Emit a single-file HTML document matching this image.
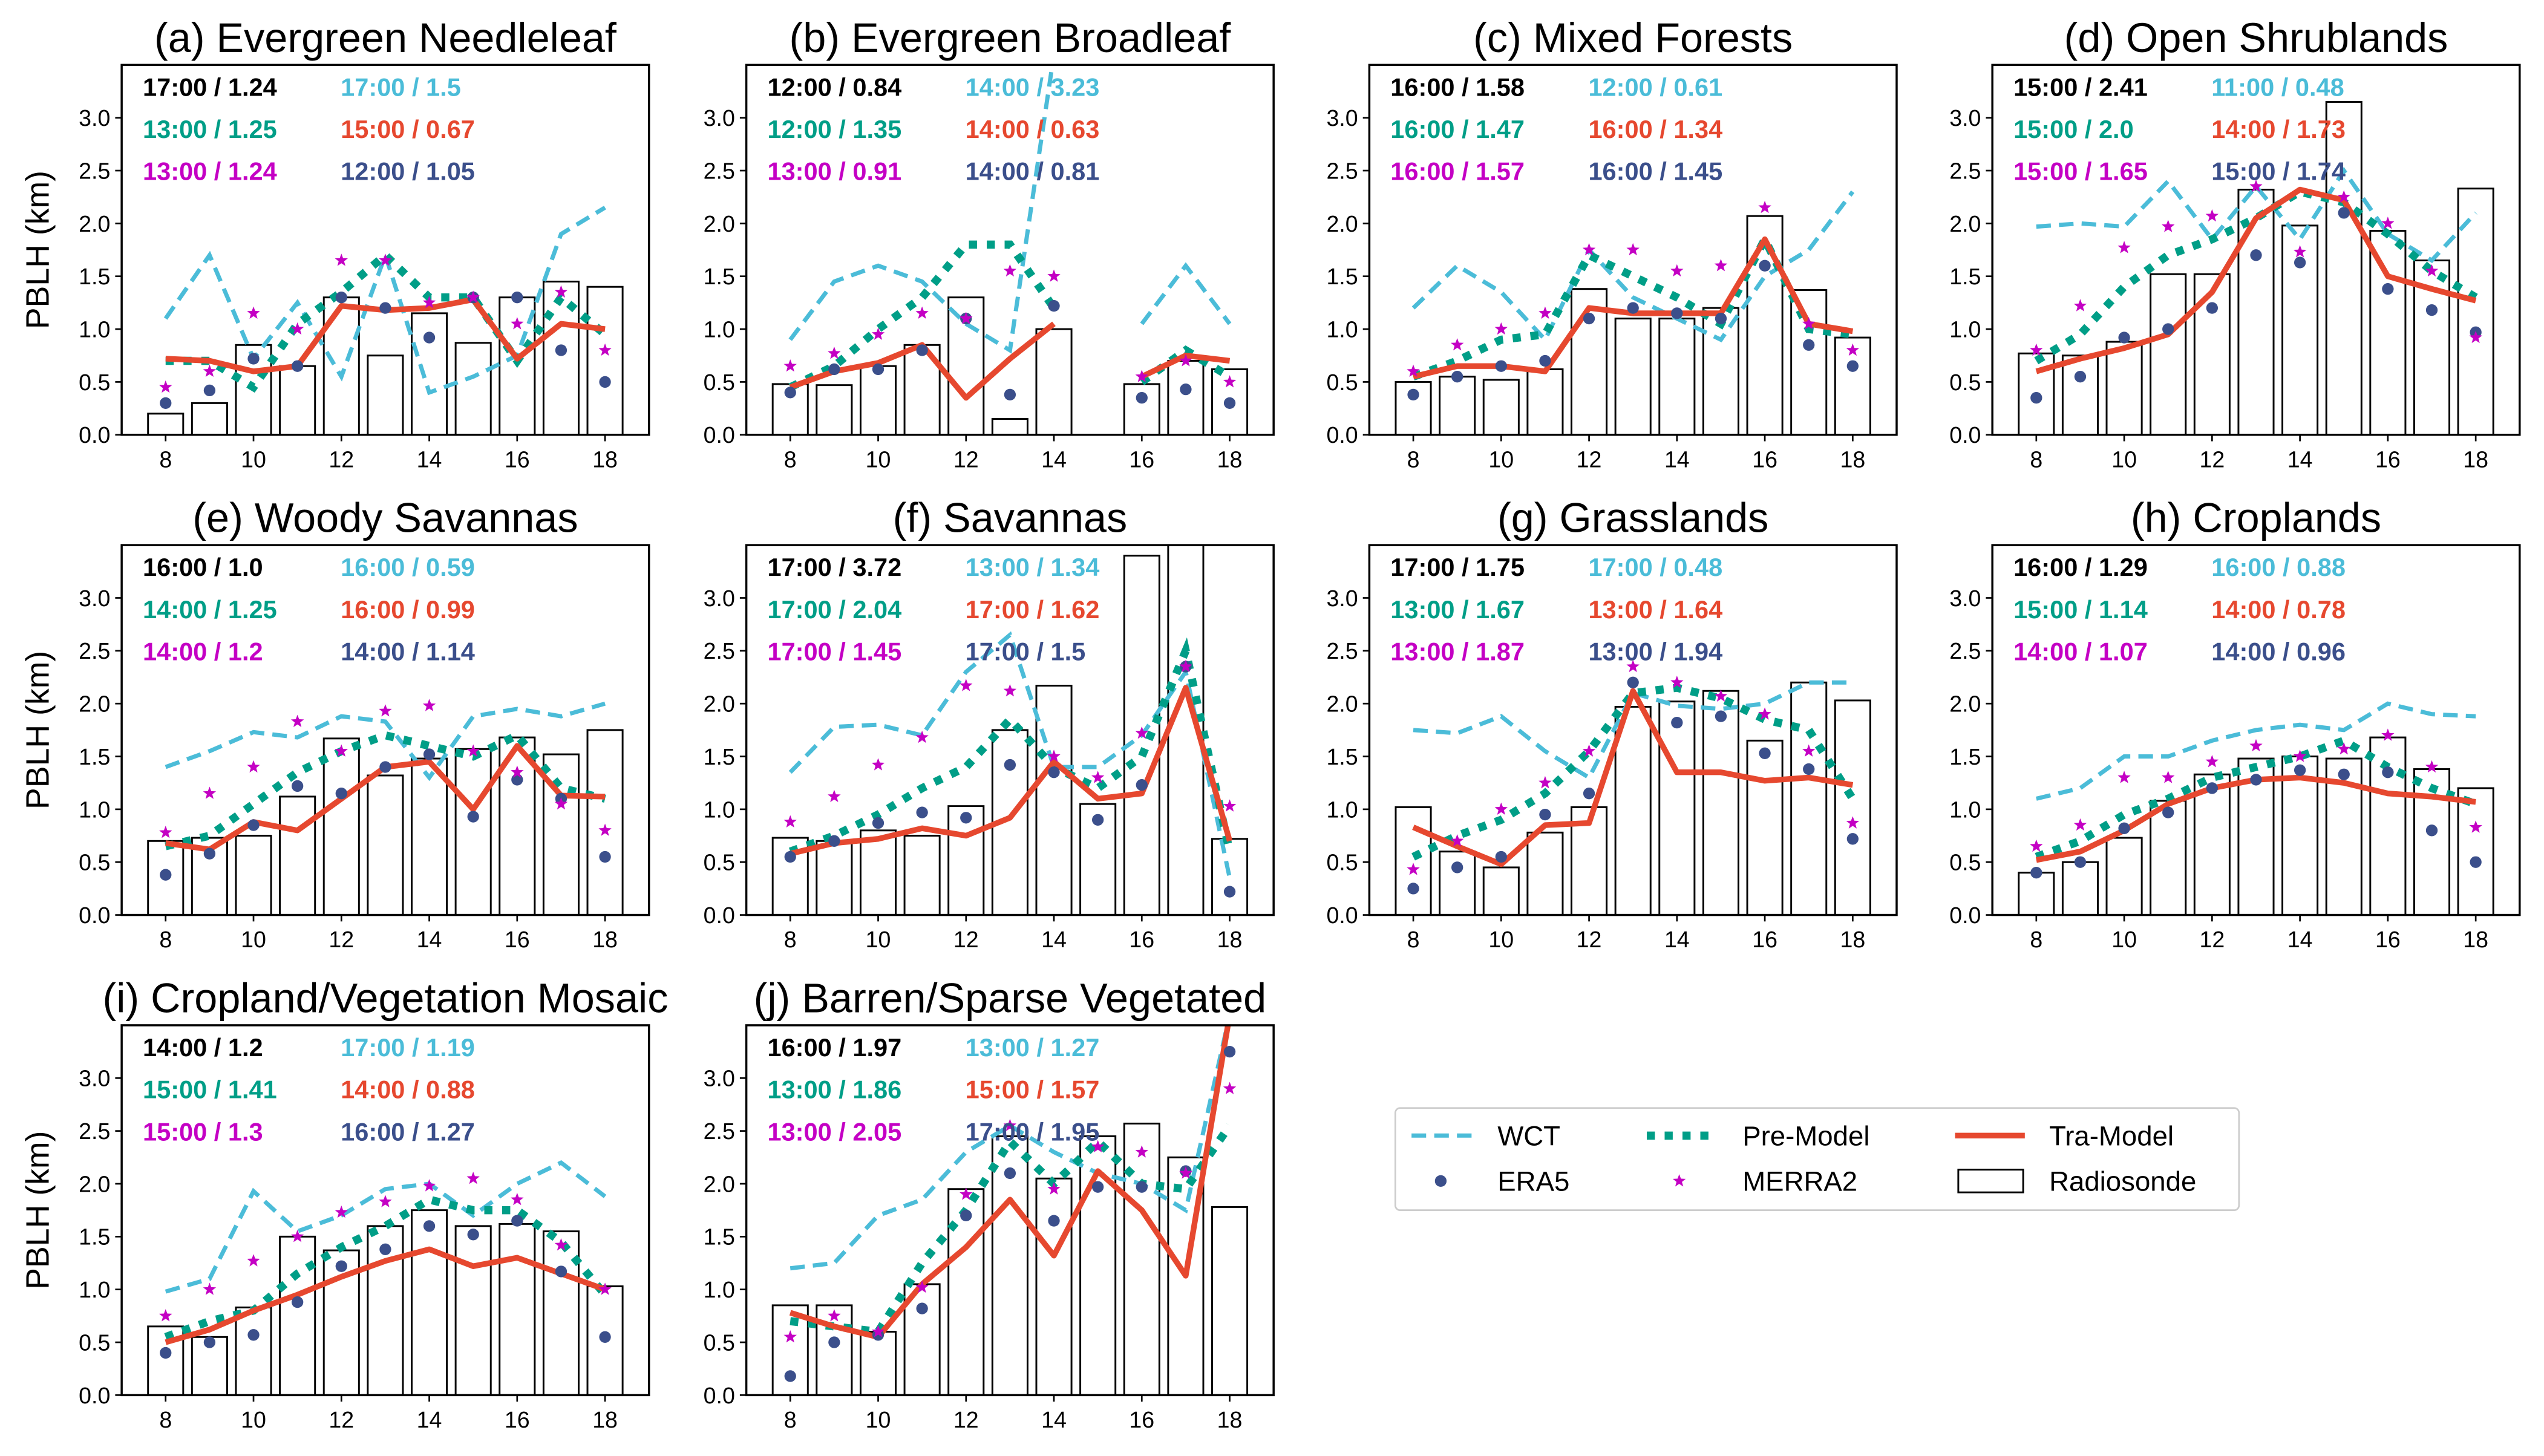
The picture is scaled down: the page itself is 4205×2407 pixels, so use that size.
<!DOCTYPE html>
<html><head><meta charset="utf-8"><style>
html,body{margin:0;padding:0;background:#fff;}
svg{display:block;font-family:"Liberation Sans",Arial,sans-serif;}
</style></head><body>
<svg id="chart" width="4205" height="2407" viewBox="0 0 1568 897.5" xmlns="http://www.w3.org/2000/svg"></svg>
<script>
const hours=[8,9,10,11,12,13,14,15,16,17,18];
const titles=["(a) Evergreen Needleleaf","(b) Evergreen Broadleaf","(c) Mixed Forests","(d) Open Shrublands","(e) Woody Savannas","(f) Savannas","(g) Grasslands","(h) Croplands","(i) Cropland/Vegetation Mosaic","(j) Barren/Sparse Vegetated"];
const N=null;
const wct=[
[1.1,1.7,0.72,1.25,0.55,1.7,0.4,0.55,0.75,1.9,2.15],
[0.9,1.45,1.6,1.45,1.05,0.8,3.6,N,1.05,1.6,1.05],
[1.2,1.6,1.35,0.9,1.75,1.3,1.1,0.9,1.5,1.75,2.3],
[1.97,2.0,1.97,2.4,1.85,2.35,1.85,2.5,1.9,1.65,2.1],
[1.4,1.55,1.73,1.68,1.88,1.83,1.3,1.88,1.95,1.88,2.0],
[1.35,1.78,1.8,1.7,2.3,2.65,1.4,1.4,1.7,2.3,0.35],
[1.75,1.72,1.88,1.55,1.3,2.1,1.98,1.95,2.0,2.2,2.2],
[1.1,1.2,1.5,1.5,1.65,1.75,1.8,1.75,2.0,1.9,1.88],
[0.98,1.1,1.93,1.55,1.7,1.95,2.0,1.7,2.0,2.2,1.88],
[1.2,1.25,1.7,1.85,2.3,2.55,2.3,2.1,2.0,1.75,3.6]];
const pre=[
[0.7,0.7,0.45,1.05,1.35,1.7,1.3,1.3,0.7,1.3,0.95],
[0.45,0.65,1.0,1.3,1.8,1.8,1.2,N,0.5,0.8,0.55],
[0.55,0.7,0.9,0.95,1.7,1.5,1.3,1.05,1.85,1.0,0.95],
[0.7,0.95,1.4,1.7,1.85,2.05,2.3,2.2,1.9,1.55,1.3],
[0.65,0.75,1.05,1.35,1.55,1.7,1.6,1.5,1.7,1.2,1.1],
[0.6,0.75,0.95,1.2,1.4,1.85,1.4,1.2,1.5,2.5,0.6],
[0.55,0.75,0.9,1.15,1.55,2.1,2.15,2.05,1.85,1.75,1.1],
[0.55,0.7,0.95,1.1,1.3,1.4,1.5,1.65,1.4,1.2,1.05],
[0.55,0.7,0.8,1.15,1.4,1.6,1.85,1.75,1.75,1.45,0.95],
[0.7,0.65,0.6,1.25,1.75,2.4,2.0,2.4,2.0,1.95,2.55]];
const tra=[
[0.72,0.7,0.6,0.65,1.22,1.18,1.2,1.28,0.72,1.05,1.0],
[0.45,0.6,0.68,0.85,0.35,0.72,1.05,N,0.55,0.75,0.7],
[0.55,0.65,0.65,0.6,1.2,1.15,1.15,1.15,1.85,1.05,0.98],
[0.6,0.72,0.82,0.95,1.35,2.05,2.32,2.22,1.5,1.38,1.27],
[0.68,0.62,0.88,0.8,1.1,1.4,1.45,1.0,1.6,1.13,1.12],
[0.58,0.68,0.72,0.82,0.75,0.92,1.45,1.1,1.15,2.15,0.7],
[0.83,0.65,0.48,0.85,0.87,2.12,1.35,1.35,1.27,1.3,1.23],
[0.52,0.6,0.8,1.05,1.2,1.28,1.3,1.25,1.15,1.12,1.07],
[0.5,0.62,0.8,0.95,1.12,1.27,1.38,1.22,1.3,1.15,1.0],
[0.78,0.65,0.55,1.05,1.4,1.85,1.32,2.12,1.75,1.13,3.6]];
const era5=[
[0.3,0.42,0.72,0.65,1.3,1.2,0.92,1.3,1.3,0.8,0.5],
[0.4,0.62,0.62,0.8,1.1,0.38,1.22,N,0.35,0.43,0.3],
[0.38,0.55,0.65,0.7,1.1,1.2,1.15,1.1,1.6,0.85,0.65],
[0.35,0.55,0.92,1.0,1.2,1.7,1.63,2.1,1.38,1.18,0.97],
[0.38,0.58,0.85,1.22,1.15,1.4,1.52,0.93,1.28,1.1,0.55],
[0.55,0.7,0.87,0.97,0.92,1.42,1.35,0.9,1.23,2.35,0.22],
[0.25,0.45,0.55,0.95,1.15,2.2,1.82,1.88,1.53,1.38,0.72],
[0.4,0.5,0.82,0.97,1.2,1.28,1.37,1.33,1.35,0.8,0.5],
[0.4,0.5,0.57,0.88,1.22,1.38,1.6,1.52,1.65,1.17,0.55],
[0.18,0.5,0.57,0.82,1.7,2.1,1.65,1.97,1.97,2.12,3.25]];
const merra2=[
[0.45,0.6,1.15,1.0,1.65,1.65,1.25,1.3,1.05,1.35,0.8],
[0.65,0.77,0.95,1.15,1.1,1.55,1.5,N,0.55,0.7,0.5],
[0.6,0.85,1.0,1.15,1.75,1.75,1.55,1.6,2.15,1.05,0.8],
[0.8,1.22,1.77,1.97,2.07,2.35,1.73,2.25,2.0,1.55,0.92],
[0.78,1.15,1.4,1.83,1.55,1.93,1.98,1.55,1.35,1.05,0.8],
[0.88,1.12,1.42,1.68,2.17,2.12,1.5,1.3,1.72,2.35,1.03],
[0.43,0.7,1.0,1.25,1.55,2.35,2.2,2.07,1.9,1.55,0.87],
[0.65,0.85,1.3,1.3,1.45,1.6,1.5,1.57,1.7,1.4,0.83],
[0.75,1.0,1.27,1.5,1.73,1.83,1.98,2.05,1.85,1.42,1.0],
[0.55,0.75,0.6,1.02,1.9,2.55,1.95,2.35,2.3,2.1,2.9]];
const radio=[
[0.2,0.3,0.85,0.65,1.3,0.75,1.15,0.87,1.3,1.45,1.4],
[0.48,0.47,0.65,0.85,1.3,0.15,1.0,N,0.48,0.7,0.62],
[0.5,0.55,0.52,0.62,1.38,1.1,1.1,1.2,2.07,1.37,0.92],
[0.77,0.75,0.88,1.52,1.52,2.32,1.98,3.15,1.93,1.65,2.33],
[0.7,0.73,0.75,1.12,1.67,1.32,1.48,1.57,1.68,1.52,1.75],
[0.73,0.7,0.8,0.75,1.03,1.75,2.17,1.05,3.4,3.6,0.72],
[1.02,0.6,0.45,0.78,1.02,1.97,2.02,2.12,1.65,2.2,2.03],
[0.4,0.5,0.73,1.08,1.33,1.48,1.5,1.48,1.68,1.38,1.2],
[0.65,0.55,0.83,1.5,1.37,1.6,1.75,1.6,1.62,1.55,1.03],
[0.85,0.85,0.6,1.05,1.95,2.45,2.05,2.45,2.57,2.25,1.78]];
const ann=[
["17:00 / 1.24","17:00 / 1.5","13:00 / 1.25","15:00 / 0.67","13:00 / 1.24","12:00 / 1.05"],
["12:00 / 0.84","14:00 / 3.23","12:00 / 1.35","14:00 / 0.63","13:00 / 0.91","14:00 / 0.81"],
["16:00 / 1.58","12:00 / 0.61","16:00 / 1.47","16:00 / 1.34","16:00 / 1.57","16:00 / 1.45"],
["15:00 / 2.41","11:00 / 0.48","15:00 / 2.0","14:00 / 1.73","15:00 / 1.65","15:00 / 1.74"],
["16:00 / 1.0","16:00 / 0.59","14:00 / 1.25","16:00 / 0.99","14:00 / 1.2","14:00 / 1.14"],
["17:00 / 3.72","13:00 / 1.34","17:00 / 2.04","17:00 / 1.62","17:00 / 1.45","17:00 / 1.5"],
["17:00 / 1.75","17:00 / 0.48","13:00 / 1.67","13:00 / 1.64","13:00 / 1.87","13:00 / 1.94"],
["16:00 / 1.29","16:00 / 0.88","15:00 / 1.14","14:00 / 0.78","14:00 / 1.07","14:00 / 0.96"],
["14:00 / 1.2","17:00 / 1.19","15:00 / 1.41","14:00 / 0.88","15:00 / 1.3","16:00 / 1.27"],
["16:00 / 1.97","13:00 / 1.27","13:00 / 1.86","15:00 / 1.57","13:00 / 2.05","17:00 / 1.95"]];
const yTicks=[0,0.5,1.0,1.5,2.0,2.5,3.0];
const xTicks=[8,10,12,14,16,18];
const C={wct:"#4bbcd8",pre:"#009e87",tra:"#e6482f",era:"#3b4f8b",mer:"#c400c4",blk:"#000"};
const annColors=[C.blk,C.wct,C.pre,C.tra,C.mer,C.era];
const svg=document.getElementById('chart');
const NS="http://www.w3.org/2000/svg";
function mk(tag,attrs,parent){const e=document.createElementNS(NS,tag);for(const k in attrs)e.setAttribute(k,attrs[k]);(parent||svg).appendChild(e);return e;}
const colX=[75,460,844,1228],rowTop=[40,336,632],W=325,H=228;
function starPts(cx,cy,r){let p=[];for(let i=0;i<10;i++){const a=-Math.PI/2+i*Math.PI/5;const rr=i%2?r*0.42:r;p.push((cx+rr*Math.cos(a)).toFixed(2)+","+(cy+rr*Math.sin(a)).toFixed(2));}return p.join(" ");}
function linePath(vals,sx,sy){let d="",pen=false;vals.forEach((v,i)=>{if(v===null){pen=false;return;}d+=(pen?"L":"M")+sx(hours[i]).toFixed(2)+","+sy(v).toFixed(2);pen=true;});return d;}
for(let p=0;p<10;p++){
  const x0=colX[p%4],y0=rowTop[Math.floor(p/4)];
  const sx=h=>x0+(h-7)/12*W, sy=v=>y0+H-v/3.5*H;
  const g=mk('g',{});
  
  
  mk('clipPath',{id:'cp'+p},g);
  mk('rect',{x:x0,y:y0,width:W,height:H},g.lastChild);
  const plot=mk('g',{'clip-path':'url(#cp'+p+')'},g);
  radio[p].forEach((v,i)=>{if(v===null)return;const b=mk('rect',{x:sx(hours[i]-0.4),y:sy(v),width:sx(0.8)-sx(0),height:sy(0)-sy(v),fill:'#fff',stroke:'#000','stroke-width':1.1},plot);
    
    });
  const l1=mk('path',{d:linePath(wct[p],sx,sy),fill:'none',stroke:C.wct,'stroke-width':2.6,'stroke-dasharray':'9,5'},plot);
  
  
  const l2=mk('path',{d:linePath(pre[p],sx,sy),fill:'none',stroke:C.pre,'stroke-width':5,'stroke-dasharray':'5,6'},plot);
  
  
  const l3=mk('path',{d:linePath(tra[p],sx,sy),fill:'none',stroke:C.tra,'stroke-width':3.5,'stroke-linejoin':'round'},plot);
  
  
  era5[p].forEach((v,i)=>{if(v===null)return;const c=mk('circle',{cx:sx(hours[i]),cy:sy(v),r:3.6,fill:C.era},plot);
    
    });
  merra2[p].forEach((v,i)=>{if(v===null)return;const s=mk('polygon',{points:starPts(sx(hours[i]),sy(v),4.2),fill:C.mer},plot);
    
    });
  const fr=mk('rect',{x:x0,y:y0,width:W,height:H,fill:'none',stroke:'#000','stroke-width':1.3},g);
  
  
  yTicks.forEach(t=>{mk('line',{x1:x0-4,x2:x0,y1:sy(t),y2:sy(t),stroke:'#000','stroke-width':1},g);
    const tx=mk('text',{x:x0-7,y:sy(t)+5,'text-anchor':'end','font-size':14},g);tx.textContent=t.toFixed(1);
    
    });
  xTicks.forEach(t=>{mk('line',{x1:sx(t),x2:sx(t),y1:y0+H,y2:y0+H+4,stroke:'#000','stroke-width':1},g);
    const tx=mk('text',{x:sx(t),y:y0+H+20,'text-anchor':'middle','font-size':14},g);tx.textContent=t;
    
    });
  const ti=mk('text',{x:x0+W/2,y:y0-8,'text-anchor':'middle','font-size':25.5},g);ti.textContent=titles[p];
  
  
  ann[p].forEach((s,k)=>{const t=mk('text',{x:x0+13+(k%2)*122,y:y0+19+Math.floor(k/2)*26,'font-size':15.5,'font-weight':'bold',fill:annColors[k]},g);t.textContent=s;
    
    });
  if(p%4===0){const yl=mk('text',{x:0,y:0,transform:`translate(30,${y0+H/2}) rotate(-90)`,'text-anchor':'middle','font-size':20},g);yl.textContent='PBLH (km)';
    
    }
}
// legend
const lg=mk('g',{});


mk('rect',{x:860,y:683,width:520,height:63,fill:'#fff',stroke:'#ccc','stroke-width':1,rx:3},lg);
mk('line',{x1:870,x2:908,y1:700,y2:700,stroke:C.wct,'stroke-width':2.6,'stroke-dasharray':'9,5'},lg);
mk('line',{x1:1015,x2:1055,y1:700,y2:700,stroke:C.pre,'stroke-width':5,'stroke-dasharray':'5,6'},lg);
mk('line',{x1:1205,x2:1248,y1:700,y2:700,stroke:C.tra,'stroke-width':3.5},lg);
mk('circle',{cx:888,cy:728,r:3.6,fill:C.era},lg);
mk('polygon',{points:starPts(1035,728,4.2),fill:C.mer},lg);
mk('rect',{x:1207,y:721,width:40,height:14,fill:'#fff',stroke:'#000','stroke-width':1.1},lg);
[["WCT",923,706],["Pre-Model",1074,706],["Tra-Model",1263,706],["ERA5",923,734],["MERRA2",1074,734],["Radiosonde",1263,734]].forEach(a=>{
  const t=mk('text',{x:a[1],y:a[2],'font-size':17},lg);t.textContent=a[0];
  
  });
</script>
</body></html>
